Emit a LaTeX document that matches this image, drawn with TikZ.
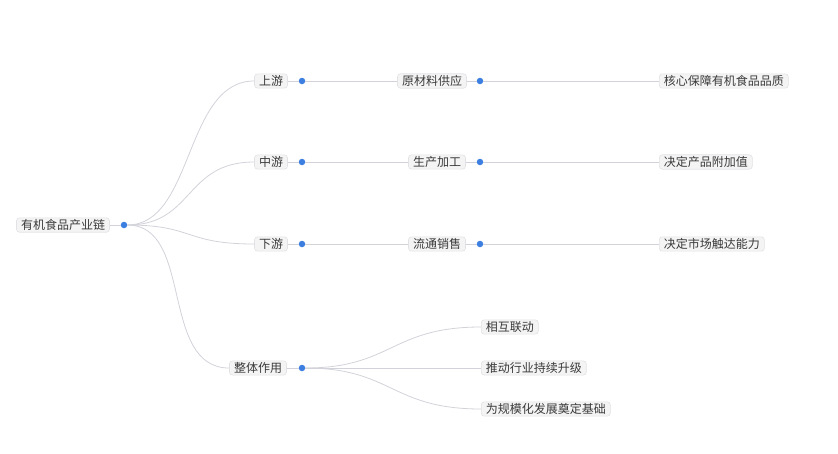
\documentclass[tikz,border=0pt]{standalone}
\usepackage{fontspec}
\setmainfont{Noto Sans CJK SC}
\usepackage{tikz}
\usepackage{color}
\definecolor{boxfill}{HTML}{F4F4F5}
\definecolor{boxline}{HTML}{E2E2E6}
\definecolor{linkgray}{HTML}{D2D2DA}
\definecolor{dotblue}{HTML}{3D7FE0}
\definecolor{txt}{HTML}{3A3A3A}

\begin{document}
\begin{tikzpicture}[x=1pt,y=-1pt,
  item/.style={draw=boxline,fill=boxfill,rounded corners=3pt,inner xsep=4.5pt,inner ysep=1.6pt,
    text=txt,font=\fontsize{12}{14}\selectfont,line width=0.6pt},
  dot/.style={circle,fill=dotblue,inner sep=0pt,minimum size=6.5pt},
  link/.style={draw=linkgray,line width=0.8pt}]
\useasboundingbox (0,0) rectangle (838,453);
\node[item] (root) at (63,225) {有机食品产业链};
\node[dot] (rootd) at (124,225) {};
\node[item] (up) at (271,81) {上游};
\node[dot] (upd) at (302,81) {};
\node[item] (mid) at (271,162) {中游};
\node[dot] (midd) at (302,162) {};
\node[item] (down) at (271,244) {下游};
\node[dot] (downd) at (302,244) {};
\node[item] (role) at (258,368) {整体作用};
\node[dot] (roled) at (302,368) {};
\node[item] (raw) at (432,81) {原材料供应};
\node[dot] (rawd) at (480,81) {};
\node[item] (prod) at (437,162) {生产加工};
\node[dot] (prodd) at (480,162) {};
\node[item] (sale) at (437,244) {流通销售};
\node[dot] (saled) at (480,244) {};
\node[item,anchor=west] (quality) at (659,81) {核心保障有机食品品质};
\node[item,anchor=west] (value) at (659,162) {决定产品附加值};
\node[item,anchor=west] (market) at (659,244) {决定市场触达能力};
\node[item,anchor=west] (link1) at (481,327) {相互联动};
\node[item,anchor=west] (link2) at (481,368) {推动行业持续升级};
\node[item,anchor=west] (link3) at (481,409) {为规模化发展奠定基础};
\draw[link] (root) -- (rootd);
\draw[link] (rootd) .. controls +(70,0) and +(-70,0) .. (up.west);
\draw[link] (rootd) .. controls +(70,0) and +(-70,0) .. (mid.west);
\draw[link] (rootd) .. controls +(70,0) and +(-70,0) .. (down.west);
\draw[link] (rootd) .. controls +(70,0) and +(-70,0) .. (role.west);
\draw[link] (up) -- (upd);
\draw[link] (mid) -- (midd);
\draw[link] (down) -- (downd);
\draw[link] (role) -- (roled);
\draw[link] (upd) -- (raw.west);
\draw[link] (midd) -- (prod.west);
\draw[link] (downd) -- (sale.west);
\draw[link] (raw) -- (rawd);
\draw[link] (prod) -- (prodd);
\draw[link] (sale) -- (saled);
\draw[link] (rawd) -- (quality.west);
\draw[link] (prodd) -- (value.west);
\draw[link] (saled) -- (market.west);
\draw[link] (roled) .. controls +(90,0) and +(-90,0) .. (link1.west);
\draw[link] (roled) -- (link2.west);
\draw[link] (roled) .. controls +(90,0) and +(-90,0) .. (link3.west);
\end{tikzpicture}
\end{document}
